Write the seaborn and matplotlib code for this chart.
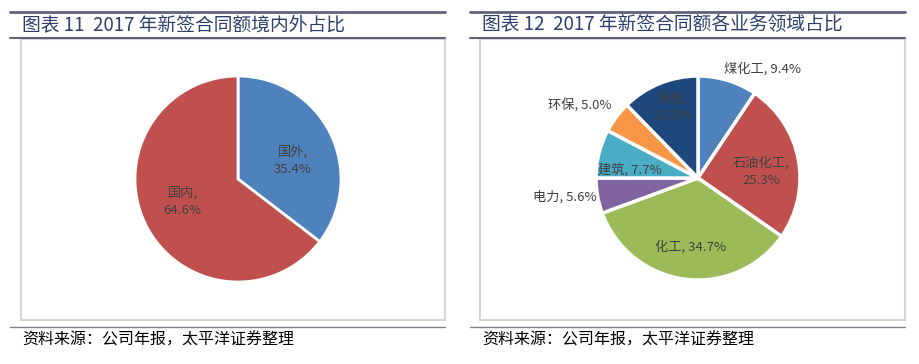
import matplotlib
matplotlib.use("Agg")
import matplotlib.pyplot as plt
import numpy as np
import seaborn as sns
from matplotlib.patches import Rectangle
from matplotlib.lines import Line2D

# ======================
# DATA
# ======================
region_labels = ["国外", "国内"]
region_share = [35.4, 64.6]

biz_labels = ["煤化工", "石油化工", "化工", "电力", "建筑", "环保", "其他"]
biz_share = [9.4, 25.3, 34.7, 5.6, 7.7, 5.0, 12.3]

titles = ["图表 11  2017 年新签合同额境内外占比",
          "图表 12  2017 年新签合同额各业务领域占比"]
source_note = "资料来源：公司年报，太平洋证券整理"

# ======================
# STYLE
# ======================
sns.set_theme(style="white")
plt.rcParams["font.family"] = ["Noto Sans CJK SC", "DejaVu Sans"]

region_colors = sns.color_palette(["#4F81BD", "#C0504D"])
biz_colors = sns.color_palette(["#4F81BD", "#C0504D", "#9BBB59", "#8064A2",
                                "#4BACC6", "#F79646", "#1F497D"])

W, H = 920, 364
LIM = 1.45
fig = plt.figure(figsize=(W / 100, H / 100), dpi=100)


def fy(y):
    return 1 - y / H


def pie_axes(cx, cy, r):
    size = 2 * LIM * r
    ax = fig.add_axes([(cx - size / 2) / W, fy(cy + size / 2), size / W, size / H])
    return ax


def fix_axes(ax):
    # pie() resets the limits, so set them again afterwards
    ax.set_xlim(-LIM, LIM)
    ax.set_ylim(-LIM, LIM)
    ax.set_aspect("equal")
    ax.axis("off")


def put_labels(ax, wedges, texts, dists, nudges):
    for w, t, d, n in zip(wedges, texts, dists, nudges):
        ang = np.deg2rad((w.theta1 + w.theta2) / 2 + n)
        ax.text(d * np.cos(ang), d * np.sin(ang), t, ha="center", va="center",
                fontsize=9.5, color="#404040", linespacing=1.4)


# ======================
# FRAMES, TITLES, NOTES
# ======================
for x0, x1, bx0, bx1, title in [(10, 445, 21, 445, titles[0]),
                                (470, 905, 480, 905, titles[1])]:
    fig.add_artist(Line2D([x0 / W, x1 / W], [fy(12)] * 2, color="#60627C", lw=2))
    fig.add_artist(Line2D([x0 / W, x1 / W], [fy(37.5)] * 2, color="#60627C", lw=1.5))
    fig.add_artist(Line2D([x0 / W, x1 / W], [fy(327)] * 2, color="#7E8090", lw=1))
    fig.add_artist(Rectangle((bx0 / W, fy(320)), (bx1 - bx0) / W, (320 - 39) / H,
                             fill=False, ec="#D6D6D6", lw=1.5, transform=fig.transFigure))
    fig.text((x0 + 12) / W, fy(25), title, fontsize=13.5, color="#2E3F6E",
             ha="left", va="center")
    fig.text((x0 + 12) / W, fy(340), source_note, fontsize=11.5, color="black",
             ha="left", va="center", style="italic")

# ======================
# LEFT PIE
# ======================
ax1 = pie_axes(238, 179, 103)
w1, _ = ax1.pie(region_share, colors=region_colors, startangle=90, counterclock=False,
                wedgeprops=dict(edgecolor="white", linewidth=2))
fix_axes(ax1)
put_labels(ax1, w1,
           [f"{l},\n{v:.1f}%" for l, v in zip(region_labels, region_share)],
           [0.56, 0.58], [-8, -4])

# ======================
# RIGHT PIE
# ======================
ax2 = pie_axes(698, 178, 102)
w2, _ = ax2.pie(biz_share, colors=biz_colors, startangle=90, counterclock=False,
                wedgeprops=dict(edgecolor="white", linewidth=2.5))
fix_axes(ax2)
biz_texts = [f"{l}, {v:.1f}%" for l, v in zip(biz_labels, biz_share)]
biz_texts[1] = f"{biz_labels[1]},\n{biz_share[1]:.1f}%"
biz_texts[6] = f"{biz_labels[6]},\n{biz_share[6]:.1f}%"
put_labels(ax2, w2, biz_texts,
           [1.24, 0.62, 0.68, 1.32, 0.67, 1.36, 0.74],
           [-13.5, -5, 1, -2, 7, 5, -2])

fig.savefig("out.png", dpi=100)
